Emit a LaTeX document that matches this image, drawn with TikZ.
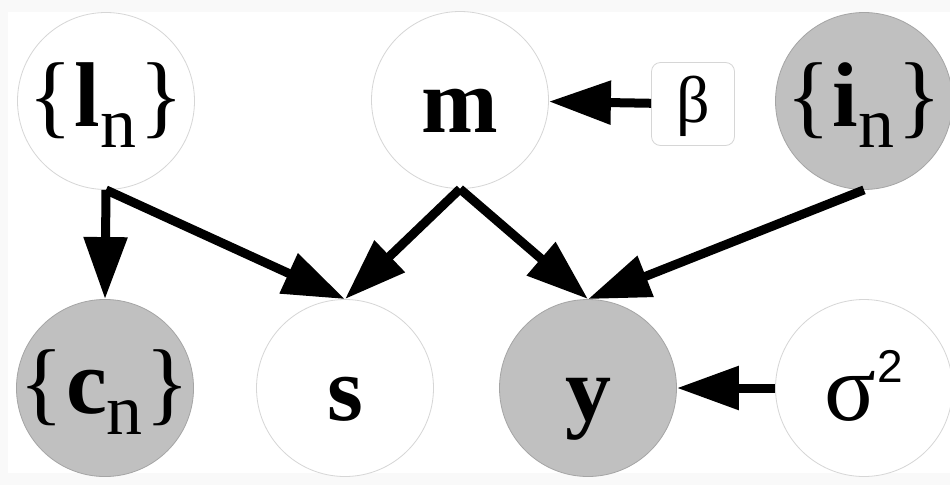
\documentclass[tikz,border=0pt]{standalone}
\usepackage{fontspec}
\setmainfont{Liberation Serif}
\newfontfamily\digitfont{Liberation Sans}
\usetikzlibrary{arrows.meta}
\definecolor{obsgray}{RGB}{192,192,192}
\definecolor{rimlight}{RGB}{214,214,214}
\definecolor{rimdark}{RGB}{165,165,165}
\definecolor{framegray}{RGB}{249,249,249}
% indexed set {x_n}: bold letter with a lowered upright n
\newcommand{\setof}[2]{\{\kern2pt\textbf{#1}\raisebox{-21pt}{\fontsize{72}{72}\selectfont #2}\kern3pt\}}
\begin{document}
\begin{tikzpicture}[x=1pt,y=-1pt,
  var/.style={circle, minimum size=177pt, inner sep=0pt, draw=rimlight,
    line width=0.8pt, fill=white, font=\fontsize{92}{92}\selectfont,
    text height=64pt, text depth=0pt},
  observed/.style={var, fill=obsgray, draw=rimdark},
  setlabel/.style={text height=50pt},
  param/.style={rectangle, rounded corners=9pt, minimum size=83pt,
    inner sep=0pt, draw=rimlight, line width=0.8pt, fill=white,
    font=\fontsize{66}{66}\selectfont, text height=36pt, text depth=0pt},
  link/.style={line width=9pt, -{Triangle[length=62pt,width=42pt]}}
]
\useasboundingbox (0,0) rectangle (950,485);
\fill[framegray] (0,0) rectangle (950,485);
\fill[white] (8,12) rectangle (950,473);

% top row
\node[var, setlabel]      (l)    at (106,101) {\setof{l}{n}};
\node[var]                (m)    at (460,100) {\textbf{m}};
\node[param]              (beta) at (693,104) {β};
\node[observed, setlabel] (i)    at (864,101) {\setof{i}{n}};

% bottom row
\node[observed, setlabel] (c)     at (105,388) {\setof{c}{n}};
\node[var]                (s)     at (345,388) {\textbf{s}};
\node[observed]           (y)     at (588,388) {\textbf{y}};
\node[var]                (sigma) at (864,388) {\fontsize{96}{96}\selectfont σ\kern1pt\raisebox{38pt}{\digitfont\fontsize{46}{46}\selectfont 2}};

% dependencies
\draw[link] (l.south) -- (c.north);
\draw[link] (l.south) -- (s.north);
\draw[link] (m.south) -- (s.north);
\draw[link] (m.south) -- (y.north);
\draw[link] (i.south) -- (y.north);
\draw[link] (beta) -- (m);
\draw[link] (sigma) -- (y);
\end{tikzpicture}
\end{document}
